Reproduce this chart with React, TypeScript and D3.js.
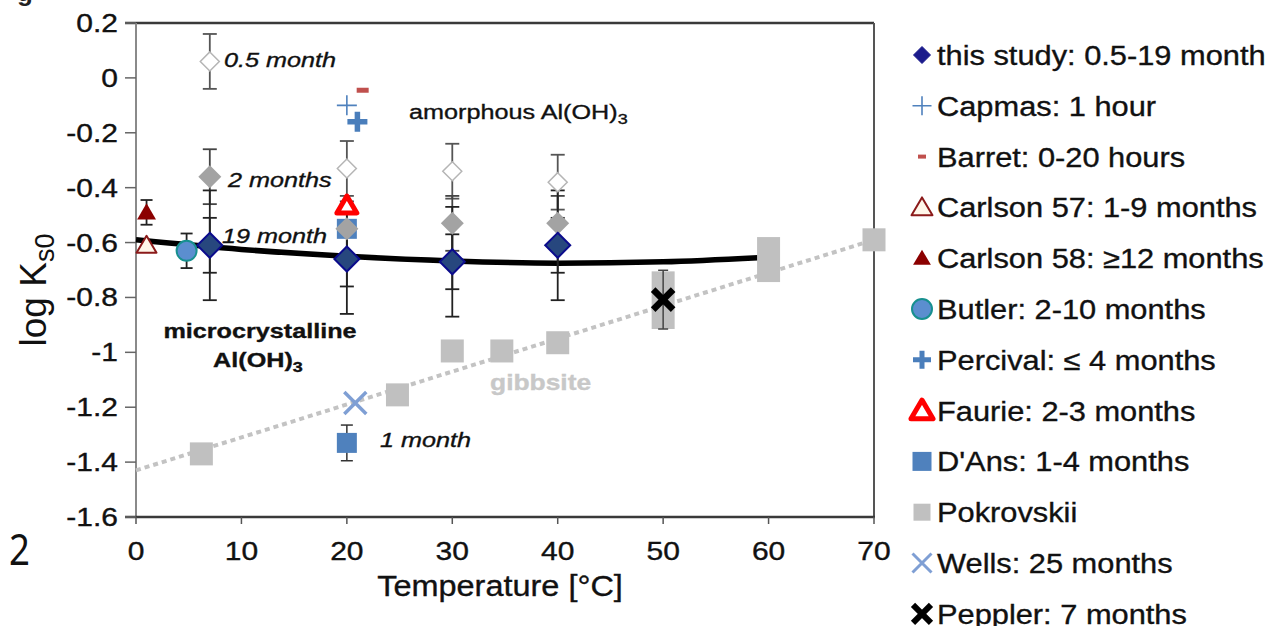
import React from 'react';
import * as d3 from 'd3';

const FONT = '"Liberation Sans", Arial, sans-serif';

// this study (temperature in °C, log Ks0)
const studyT = [7, 20, 30, 40];
const study05 = [0.06, -0.33, -0.34, -0.38];
const study05Err = [0.1, 0.1, 0.1, 0.1];
const study2 = [-0.36, -0.55, -0.53, -0.53];
const study2Err = [0.1, 0.1, 0.1, 0.1];
const study19 = [-0.61, -0.66, -0.67, -0.61];
const study19Err = [0.2, 0.2, 0.2, 0.2];
const study19ErrInner = [0.1, 0.1, 0.1, 0.1];

// fitted curve through this study + gibbsite trend
const fitT = [0, 10, 20, 30, 40, 50, 59];
const fitK = [-0.59, -0.625, -0.65, -0.667, -0.675, -0.67, -0.655];
const gibbT = [0, 70];
const gibbK = [-1.43, -0.59];

// literature data
const capmasT = [20];
const capmasK = [-0.1];
const barretT = [21.5];
const barretK = [-0.045];
const carlson57T = [1];
const carlson57K = [-0.61];
const carlson58T = [1];
const carlson58K = [-0.49];
const carlson58Err = [0.045];
const butlerT = [4.8];
const butlerK = [-0.63];
const butlerErr = [0.063];
const percivalT = [21];
const percivalK = [-0.16];
const faurieT = [20];
const faurieK = [-0.465];
const dansT = [20, 20];
const dansK = [-0.55, -1.33];
const dansErr = [0, 0.065];
const pokT = [6.2, 24.8, 30, 34.7, 40, 50, 60, 70];
const pokK = [-1.37, -1.155, -0.995, -0.995, -0.965, -0.81, -0.662, -0.59];
const pokErr = [0, 0, 0, 0, 0, 0.105, 0.082, 0];
const wellsT = [20.8];
const wellsK = [-1.185];
const pepplerT = [50];
const pepplerK = [-0.808];
const pepplerErr = [0.107];

const xTicks = [0, 10, 20, 30, 40, 50, 60, 70];
const xTickLabels = ['0', '10', '20', '30', '40', '50', '60', '70'];
const yTicks = [0.2, 0, -0.2, -0.4, -0.6, -0.8, -1, -1.2, -1.4, -1.6];
const yTickLabels = ['0.2', '0', '-0.2', '-0.4', '-0.6', '-0.8', '-1', '-1.2', '-1.4', '-1.6'];

const legendLabels = [
  'this study: 0.5-19 months',
  'Capmas: 1 hour',
  'Barret: 0-20 hours',
  'Carlson 57: 1-9 months',
  'Carlson 58: \u226512 months',
  'Butler: 2-10 months',
  'Percival: \u2264 4 months',
  'Faurie: 2-3 months',
  "D'Ans: 1-4 months",
  'Pokrovskii',
  'Wells: 25 months',
  'Peppler: 7 months',
];

// in-plot annotations (placed in data coordinates)
const annoText = ['0.5 month', '2 months', '19 month', '1 month'];
const annoT = [8.35, 8.73, 8.16, 23.14];
const annoK = [0.04, -0.397, -0.6, -1.345];

type Sty = { sym: string; r: number; fill?: string; stroke?: string; sw?: number };

const S: Record<string, Sty> = {
  navy: { sym: 'diamond', r: 12.5, fill: '#27477e', stroke: '#0b0b8c', sw: 2 },
  grey: { sym: 'diamond', r: 11.5, fill: '#a3a3a3' },
  white: { sym: 'diamond', r: 9.5, fill: '#ffffff', stroke: '#b5b5b5', sw: 1.5 },
  capmas: { sym: 'plus', r: 10, stroke: '#4f81bd', sw: 1.6 },
  barret: { sym: 'dash', r: 6, stroke: '#c0504d', sw: 5 },
  c57: { sym: 'triangle', r: 9.5, fill: '#fff7ea', stroke: '#8b1a1a', sw: 2 },
  c58: { sym: 'triangle', r: 9, fill: '#8b0000' },
  butler: { sym: 'circle', r: 10, fill: '#5b8ecf', stroke: '#17908f', sw: 2 },
  percival: { sym: 'plus', r: 10, stroke: '#4a7ebb', sw: 5.5 },
  faurie: { sym: 'triangle', r: 9.5, fill: '#ffffff', stroke: '#ff0000', sw: 5 },
  dans: { sym: 'square', r: 10, fill: '#4f81bd' },
  pok: { sym: 'square', r: 11.5, fill: '#c0c0c0' },
  wells: { sym: 'cross', r: 11, stroke: '#7f9fd4', sw: 3.5 },
  peppler: { sym: 'cross', r: 10, stroke: '#000000', sw: 6.5 },
};

const legendStyles: Sty[] = [
  { ...S.navy, r: 8.5, fill: '#1b1b8c', stroke: '#1b1b8c', sw: 1 },
  { ...S.capmas, r: 9.5 },
  { ...S.barret, r: 4, sw: 4 },
  { ...S.c57, r: 10 },
  { ...S.c58, r: 8.5 },
  S.butler,
  { ...S.percival, r: 9, sw: 5 },
  { ...S.faurie, r: 10.5, sw: 5 },
  { ...S.dans, r: 9.5 },
  { ...S.pok, r: 8.5 },
  { ...S.wells, r: 9.5, sw: 3 },
  { ...S.peppler, r: 9, sw: 6 },
];

const x = d3.scaleLinear().domain([0, 70]).range([136, 874]);
const y = d3.scaleLinear().domain([-1.6, 0.2]).range([517, 23]);

function Mark({ s, cx, cy }: { s: Sty; cx: number; cy: number }) {
  const { r } = s;
  switch (s.sym) {
    case 'diamond':
      return (
        <polygon
          points={`${cx},${cy - r} ${cx + r},${cy} ${cx},${cy + r} ${cx - r},${cy}`}
          fill={s.fill}
          stroke={s.stroke || 'none'}
          strokeWidth={s.sw || 0}
        />
      );
    case 'plus':
      return (
        <path
          d={`M${cx - r},${cy}H${cx + r}M${cx},${cy - r}V${cy + r}`}
          stroke={s.stroke}
          strokeWidth={s.sw}
          fill="none"
        />
      );
    case 'dash':
      return <line x1={cx - r} x2={cx + r} y1={cy} y2={cy} stroke={s.stroke} strokeWidth={s.sw} />;
    case 'triangle':
      return (
        <polygon
          points={`${cx},${cy - r} ${cx + r * 1.05},${cy + r * 0.78} ${cx - r * 1.05},${cy + r * 0.78}`}
          fill={s.fill}
          stroke={s.stroke || 'none'}
          strokeWidth={s.sw || 0}
          strokeLinejoin="round"
        />
      );
    case 'circle':
      return <circle cx={cx} cy={cy} r={r} fill={s.fill} stroke={s.stroke} strokeWidth={s.sw} />;
    case 'square':
      return <rect x={cx - r} y={cy - r} width={2 * r} height={2 * r} fill={s.fill} />;
    case 'cross':
      return (
        <path
          d={`M${cx - r},${cy - r}L${cx + r},${cy + r}M${cx + r},${cy - r}L${cx - r},${cy + r}`}
          stroke={s.stroke}
          strokeWidth={s.sw}
          fill="none"
        />
      );
    default:
      return null;
  }
}

function ErrBar({ t, k, e, color = '#222', cap = 7, w = 1.8 }: any) {
  if (!e) return null;
  const cx = x(t);
  const y1 = y(k + e);
  const y2 = y(k - e);
  return (
    <g stroke={color} strokeWidth={w}>
      <line x1={cx} x2={cx} y1={y1} y2={y2} />
      <line x1={cx - cap} x2={cx + cap} y1={y1} y2={y1} />
      <line x1={cx - cap} x2={cx + cap} y1={y2} y2={y2} />
    </g>
  );
}

// text slightly stretched sideways, as in the scanned figure
function ST({ x: px, y: py, size, sx = 1.2, anchor = 'start', weight = 'normal', italic = false, fill = '#111', children }: any) {
  return (
    <text
      transform={`translate(${px},${py}) scale(${sx},1)`}
      fontSize={size}
      textAnchor={anchor}
      fontWeight={weight}
      fontStyle={italic ? 'italic' : 'normal'}
      fill={fill}
      stroke={fill}
      strokeWidth={0.35}
      fontFamily={FONT}
    >
      {children}
    </text>
  );
}

const pts = (ts: number[], ks: number[]) => ts.map((t, i) => ({ t, k: ks[i] }));

export default function App() {
  const line = d3
    .line<{ t: number; k: number }>()
    .x((d) => x(d.t))
    .y((d) => y(d.k))
    .curve(d3.curveMonotoneX);

  const legY = (i: number) => 55 + i * 50.8;

  return (
    <svg width={1265} height={626} style={{ position: 'absolute', left: 0, top: 0, background: '#fff' }}>
      <rect width={1265} height={626} fill="#fff" />

      {/* cropped remnants at the left edge */}
      <text x={17} y={1} fontSize={26} fontWeight="bold" fontFamily={FONT} fill="#222">g</text>
      <text transform="translate(9,565) scale(0.85,1)" fontSize={43} fontFamily='"Noto Sans", sans-serif' fill="#111">2</text>

      {/* frame */}
      <line x1={125} x2={874} y1={y(0.2)} y2={y(0.2)} stroke="#3a3a3a" strokeWidth={2.5} />
      <line x1={874} x2={874} y1={y(0.2)} y2={y(-1.6)} stroke="#555" strokeWidth={2} />
      <line x1={x(0)} x2={x(0)} y1={y(0.2)} y2={y(-1.6)} stroke="#8a8a8a" strokeWidth={2} />
      <line x1={125} x2={875} y1={y(-1.6)} y2={y(-1.6)} stroke="#3a3a3a" strokeWidth={2.5} />

      {yTicks.map((v, i) => (
        <g key={'yt' + i}>
          <line x1={125} x2={x(0)} y1={y(v)} y2={y(v)} stroke="#666" strokeWidth={1.5} />
          <ST x={118} y={y(v) + 9} size={25} anchor="end">{yTickLabels[i]}</ST>
        </g>
      ))}
      {xTicks.map((v, i) => (
        <g key={'xt' + i}>
          <line x1={x(v)} x2={x(v)} y1={y(-1.6)} y2={y(-1.6) + 7} stroke="#555" strokeWidth={1.5} />
          <ST x={x(v)} y={560} size={25} anchor="middle">{xTickLabels[i]}</ST>
        </g>
      ))}

      <ST x={500} y={596} size={29} sx={1.12} anchor="middle">Temperature [°C]</ST>
      <text transform="translate(46,290) rotate(-90)" fontSize={37} fontFamily={FONT} textAnchor="middle" fill="#111">
        log K<tspan fontSize={27} dy={8}>s0</tspan>
      </text>

      {/* gibbsite trend and fit */}
      <path d={line(pts(gibbT, gibbK)) || ''} stroke="#c3c3c3" strokeWidth={4} strokeDasharray="5 4" fill="none" />
      <path d={line(pts(fitT, fitK)) || ''} stroke="#000" strokeWidth={5.5} fill="none" />

      {/* Pokrovskii */}
      {pokT.map((t, i) => {
        const r = S.pok.r;
        const top = Math.min(y(pokK[i] + pokErr[i]), y(pokK[i]) - r);
        const bot = Math.max(y(pokK[i] - pokErr[i]), y(pokK[i]) + r);
        return <rect key={'pk' + i} x={x(t) - r} y={top} width={2 * r} height={bot - top} fill={S.pok.fill} />;
      })}

      {/* error bars */}
      {studyT.map((t, i) => (
        <g key={'eb' + i}>
          <ErrBar t={t} k={study05[i]} e={study05Err[i]} color="#555" />
          <ErrBar t={t} k={study2[i]} e={study2Err[i]} color="#444" />
          <ErrBar t={t} k={study19[i]} e={study19Err[i]} />
          <ErrBar t={t} k={study19[i]} e={study19ErrInner[i]} />
        </g>
      ))}
      <ErrBar t={carlson58T[0]} k={carlson58K[0]} e={carlson58Err[0]} cap={6} />
      <ErrBar t={butlerT[0]} k={butlerK[0]} e={butlerErr[0]} cap={6} />
      {dansT.map((t, i) => (
        <ErrBar key={'de' + i} t={t} k={dansK[i]} e={dansErr[i]} color="#333" cap={6} w={1.5} />
      ))}
      <ErrBar t={pepplerT[0]} k={pepplerK[0]} e={pepplerErr[0]} color="#444" cap={5} w={1.5} />

      {dansT.map((t, i) => <Mark key={'d' + i} s={S.dans} cx={x(t)} cy={y(dansK[i])} />)}
      {studyT.map((t, i) => <Mark key={'w' + i} s={S.white} cx={x(t)} cy={y(study05[i])} />)}
      {studyT.map((t, i) => <Mark key={'g' + i} s={S.grey} cx={x(t)} cy={y(study2[i])} />)}
      {studyT.map((t, i) => <Mark key={'n' + i} s={S.navy} cx={x(t)} cy={y(study19[i])} />)}
      {capmasT.map((t, i) => <Mark key={'cp' + i} s={S.capmas} cx={x(t)} cy={y(capmasK[i])} />)}
      {barretT.map((t, i) => <Mark key={'ba' + i} s={S.barret} cx={x(t)} cy={y(barretK[i])} />)}
      {percivalT.map((t, i) => <Mark key={'pe' + i} s={S.percival} cx={x(t)} cy={y(percivalK[i])} />)}
      {carlson57T.map((t, i) => <Mark key={'c7' + i} s={S.c57} cx={x(t)} cy={y(carlson57K[i])} />)}
      {carlson58T.map((t, i) => <Mark key={'c8' + i} s={S.c58} cx={x(t)} cy={y(carlson58K[i])} />)}
      {butlerT.map((t, i) => <Mark key={'bu' + i} s={S.butler} cx={x(t)} cy={y(butlerK[i])} />)}
      {faurieT.map((t, i) => <Mark key={'fa' + i} s={S.faurie} cx={x(t)} cy={y(faurieK[i])} />)}
      {wellsT.map((t, i) => <Mark key={'we' + i} s={S.wells} cx={x(t)} cy={y(wellsK[i])} />)}
      {pepplerT.map((t, i) => <Mark key={'pp' + i} s={S.peppler} cx={x(t)} cy={y(pepplerK[i])} />)}

      {/* annotations */}
      {annoText.map((s, i) => (
        <ST key={'an' + i} x={x(annoT[i])} y={y(annoK[i])} size={21} italic>{s}</ST>
      ))}
      <ST x={x(25.9)} y={y(-0.15)} size={21}>
        amorphous Al(OH)<tspan fontSize={15} dy={5}>3</tspan>
      </ST>
      <ST x={x(11.76)} y={y(-0.948)} size={21} weight="bold" anchor="middle">microcrystalline</ST>
      <ST x={x(11.57)} y={y(-1.053)} size={21} weight="bold" anchor="middle">
        Al(OH)<tspan fontSize={15} dy={5}>3</tspan>
      </ST>
      <ST x={x(33.58)} y={y(-1.137)} size={22} weight="bold" fill="#c8c8c8">gibbsite</ST>

      {/* legend */}
      {legendLabels.map((lab, i) => (
        <g key={'lg' + i}>
          <Mark s={legendStyles[i]} cx={922} cy={legY(i)} />
          <ST x={937} y={legY(i) + 10} size={28} sx={1.1}>{lab}</ST>
        </g>
      ))}
    </svg>
  );
}
